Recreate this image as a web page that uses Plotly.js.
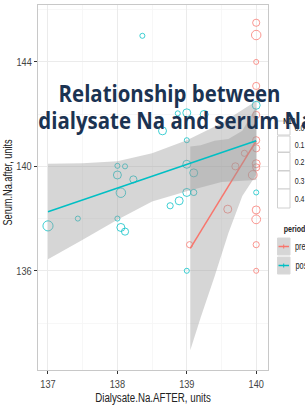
<!DOCTYPE html>
<html><head><meta charset="utf-8">
<script src="https://cdn.plot.ly/plotly-3.0.1.min.js"></script>
<style>html,body{margin:0;padding:0;background:#fff}#chart{width:305px;height:406px}</style>
</head><body><div id="chart"></div>
<script>
// ---- data ----
var postX = [137.0,137.43,138.0,138.11,138.0,138.23,138.05,138.0,138.05,138.11,138.36,140.0,138.87,139.0,139.25,138.65,139.0,139.0,139.1,139.0,139.1,138.89,138.76,140.0,139.0];
var postY = [137.72,138.0,140.02,140.0,139.67,139.5,138.99,138.0,137.66,137.5,145.0,142.34,142.03,142.05,141.99,141.36,141.0,140.08,139.75,139.0,139.0,138.68,138.49,139.0,136.0];
var postN10 = [0.4,0.1,0.1,0.1,0.25,0.2,0.35,0.1,0.25,0.2,0.1,0.25,0.1,0.25,0.25,0.25,0.1,0.25,0.25,0.25,0.15,0.25,0.15,0.1,0.1];

var preX = [140,140,140,140,140,140,140,139.83,139.7,140,140,139.95,139.59,140,140,140,139.04,140];
var preY = [145.5,145.03,144.0,143.08,141.97,141.0,140.69,140.5,140.0,140.1,139.96,139.67,138.36,138.33,137.97,137.0,137.0,136.0];
var preN10 = [0.2,0.35,0.1,0.2,0.2,0.2,0.2,0.15,0.2,0.25,0.2,0.3,0.25,0.25,0.3,0.15,0.15,0.1];

var postFitX = [137, 140];
var postFitY = [138.26, 140.98];
var postBandX = [137,137.5,138,138.5,139,139.5,140];
var postBandUp = [140.1,140.12,140.2,140.5,141.0,141.65,142.5];
var postBandLo = [136.44,137.19,137.95,138.65,139.05,139.4,139.48];

var preFitX = [139.05, 140];
var preFitY = [136.86, 140.98];
var preBandX = [139.05,139.2,139.4,139.6,139.8,140];
var preBandUp = [140.76,140.81,140.98,141.05,141.36,142.28];
var preBandLo = [132.96,134.21,135.78,137.45,138.86,139.68];

var sizeLevels = [0.1,0.2,0.3,0.4];
var sizeLabels = ['0.1','0.2','0.3','0.4'];
var periods = ['pre','post'];
var xTicks = [137,138,139,140];
var yTicks = [136,140,144];

// ---- styling ----
var PRE = '#F8766D', POST = '#00BFC4';
var FONT = 'Liberation Sans, Arial, sans-serif';
function msize(v){ return 16*Math.sqrt(v); }
function band(xs, up, lo){ return {x: xs.concat(xs.slice().reverse()), y: up.concat(lo.slice().reverse())}; }

var pb = band(postBandX, postBandUp, postBandLo);
var rb = band(preBandX, preBandUp, preBandLo);

var traces = [
 {x: preX, y: preY, type:'scatter', mode:'markers', showlegend:false, hoverinfo:'skip',
  marker:{symbol:'circle-open', color:PRE, opacity:0.75, size: preN10.map(msize), line:{width:1}}},
 {x: postX, y: postY, type:'scatter', mode:'markers', showlegend:false, hoverinfo:'skip',
  marker:{symbol:'circle-open', color:POST, opacity:0.75, size: postN10.map(msize), line:{width:1}}},
 {x: rb.x, y: rb.y, type:'scatter', mode:'lines', fill:'toself', fillcolor:'rgba(153,153,153,0.4)', line:{width:0}, showlegend:false, hoverinfo:'skip'},
 {x: preFitX, y: preFitY, type:'scatter', mode:'lines', line:{color:PRE, width:1.5}, showlegend:false},
 {x: pb.x, y: pb.y, type:'scatter', mode:'lines', fill:'toself', fillcolor:'rgba(153,153,153,0.4)', line:{width:0}, showlegend:false, hoverinfo:'skip'},
 {x: postFitX, y: postFitY, type:'scatter', mode:'lines', line:{color:POST, width:1.5}, showlegend:false}
];

// pixel -> paper helpers for the hand-made ggplot-style legends
var L=38, R=268, T=5, B=370;
function px(x){ return (x-L)/(R-L); }
function py(y){ return (B-y)/(B-T); }

var shapes = [], annotations = [];
// size legend
annotations.push({xref:'paper', yref:'paper', x:px(278.5), y:py(121), xanchor:'left', yanchor:'middle', text:'<b>N10</b>', showarrow:false, font:{family:FONT, size:9, color:'#222'}});
var keyY = [128, 144, 161.5, 180, 198.5];
var keyH = [14, 16, 18, 18, 19];
var allLevels = [0].concat(sizeLevels), allLabels = ['0.0'].concat(sizeLabels);
for (var i=0;i<allLevels.length;i++){
  var cy = keyY[i], h = keyH[i];
  shapes.push({type:'rect', xref:'paper', yref:'paper', x0:px(277.5), x1:px(290), y0:py(cy-h/2), y1:py(cy+h/2), line:{color:'#d0d0d0', width:1}, fillcolor:'#fff', layer:'above'});
  annotations.push({xref:'paper', yref:'paper', x:px(291), y:py(cy), xanchor:'left', yanchor:'middle', text:allLabels[i], showarrow:false, font:{family:FONT, size:9.5, color:'#222'}});
}
traces.push({x:sizeLevels.map(function(){return px(283.7);}), y:sizeLevels.map(function(v,i){return py(keyY[i+1]);}), xaxis:'x2', yaxis:'y2', type:'scatter', mode:'markers', showlegend:false, hoverinfo:'skip', cliponaxis:false,
  marker:{symbol:'circle-open', color:'#222', size:sizeLevels.map(msize), line:{width:1}}});
// period legend
annotations.push({xref:'paper', yref:'paper', x:px(278), y:py(229), xanchor:'left', yanchor:'middle', text:'<b>period</b>', showarrow:false, font:{family:FONT, size:9.5, color:'#222'}});
var pY = [246.5, 265.5], pC = [PRE, POST];
for (var j=0;j<periods.length;j++){
  shapes.push({type:'rect', xref:'paper', yref:'paper', x0:px(277.5), x1:px(290), y0:py(pY[j]-8.5), y1:py(pY[j]+8.5), line:{color:'#d8d8d8', width:1}, fillcolor:'#d6d6d6', layer:'above'});
  shapes.push({type:'line', xref:'paper', yref:'paper', x0:px(278.5), x1:px(289), y0:py(pY[j]), y1:py(pY[j]), line:{color:pC[j], width:1.5}, layer:'above'});
  shapes.push({type:'line', xref:'paper', yref:'paper', x0:px(283.7), x1:px(283.7), y0:py(pY[j]-2), y1:py(pY[j]+2), line:{color:pC[j], width:1}, layer:'above'});
  annotations.push({xref:'paper', yref:'paper', x:px(290.5), y:py(pY[j]), xanchor:'left', yanchor:'middle', text:periods[j], showarrow:false, font:{family:FONT, size:10, color:'#222'}});
}
// overlay title
annotations.push({xref:'paper', yref:'paper', x:px(169), y:py(92), xanchor:'center', yanchor:'middle', text:'<b>Relationship between</b>', showarrow:false, font:{family:'Open Sans, sans-serif', size:24, color:'#1b3352'}});
annotations.push({xref:'paper', yref:'paper', x:px(176), y:py(119), xanchor:'center', yanchor:'middle', text:'<b>dialysate Na and serum Na</b>', showarrow:false, font:{family:'Open Sans, sans-serif', size:24, color:'#1b3352'}});

var layout = {
  width:305, height:406, margin:{l:L, r:305-R, t:T, b:406-B},
  paper_bgcolor:'#fff', plot_bgcolor:'#fff', showlegend:false,
  xaxis:{range:[136.856,140.17], tickvals:xTicks, ticktext:xTicks.map(String), ticks:'outside', ticklen:3, tickcolor:'#333', tickwidth:1,
    showgrid:true, gridcolor:'#ebebeb', gridwidth:1, zeroline:false, showline:true, mirror:true, linecolor:'#c8c8c8', linewidth:1,
    minor:{dtick:0.5, tick0:136.5, showgrid:true, gridcolor:'#f5f5f5', gridwidth:0.8},
    tickfont:{family:FONT, size:11.5, color:'#444'},
    title:{text:'Dialysate.Na.AFTER, units', font:{family:FONT, size:13.5, color:'#222'}, standoff:3}},
  yaxis:{range:[132.2,146.18], tickvals:yTicks, ticktext:yTicks.map(String), ticks:'outside', ticklen:3, tickcolor:'#333', tickwidth:1,
    showgrid:true, gridcolor:'#ebebeb', gridwidth:1, zeroline:false, showline:true, mirror:true, linecolor:'#c8c8c8', linewidth:1,
    minor:{dtick:2, tick0:134, showgrid:true, gridcolor:'#f5f5f5', gridwidth:0.8},
    tickfont:{family:FONT, size:11.5, color:'#444'},
    title:{text:'Serum.Na.after, units', font:{family:FONT, size:13.5, color:'#222'}, standoff:4}},
  xaxis2:{overlaying:'x', range:[0,1], visible:false, anchor:'y2', domain:[0,1]},
  yaxis2:{overlaying:'y', range:[0,1], visible:false, anchor:'x2'},
  shapes:shapes, annotations:annotations
};

// the reference's lettering is horizontally condensed: squeeze each text along its own baseline
function squeeze(el, s, shift){
  var bb = el.getBBox();
  var a = el.getAttribute('text-anchor') || 'start';
  var cx = a === 'middle' ? bb.x + bb.width/2 : (a === 'end' ? bb.x + bb.width : bb.x);
  var t = el.getAttribute('transform') || '';
  el.setAttribute('transform', t + ' translate(' + (cx + (shift||0)) + ',0) scale(' + s + ',1) translate(' + (-cx) + ',0)');
}
Plotly.newPlot('chart', traces, layout, {staticPlot:true, displayModeBar:false}).then(function(gd){
  gd.querySelectorAll('.xtick text, .ytick text').forEach(function(el){ squeeze(el, 0.8); });
  gd.querySelectorAll('.g-xtitle text').forEach(function(el){ squeeze(el, 0.72); });
  gd.querySelectorAll('.g-ytitle text').forEach(function(el){ squeeze(el, 0.68, 5); });
  gd.querySelectorAll('.annotation-text').forEach(function(el){
    var txt = el.textContent;
    squeeze(el, /Relationship|dialysate/.test(txt) ? 0.85 : 0.74);
  });
});
</script></body></html>
